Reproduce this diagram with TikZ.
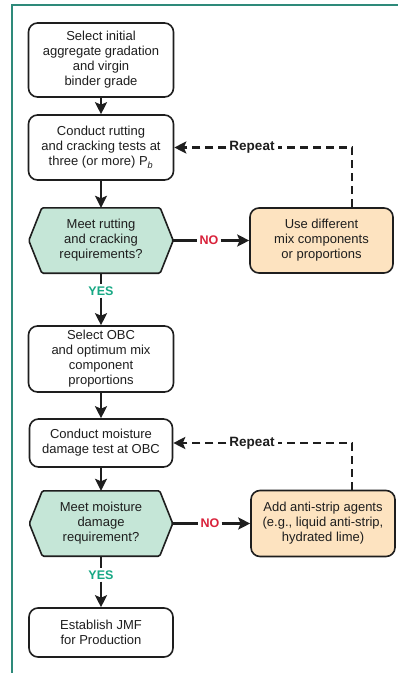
\documentclass[tikz,border=0pt]{standalone}
\usepackage{fontspec}
\setmainfont{Liberation Sans}
\usetikzlibrary{arrows.meta,backgrounds}
\definecolor{frameteal}{HTML}{2E8A7A}
\definecolor{hexfill}{HTML}{C5E6D7}
\definecolor{orfill}{HTML}{FDE3C0}
\definecolor{yescol}{HTML}{17A884}
\definecolor{nocol}{HTML}{D9213A}
\definecolor{ink}{HTML}{1E1E1E}
\begin{document}
\begin{tikzpicture}[x=1pt,y=-1pt,
  box/.style={draw=ink, line width=1.6pt, rounded corners=9pt, align=center,
    font=\fontsize{13}{15}\selectfont, text=ink, inner sep=0pt},
  orbox/.style={box, fill=orfill},
  hexnode/.style={align=center, font=\fontsize{13}{15}\selectfont, text=ink, inner sep=0pt},
  hexdraw/.style={draw=ink, line width=1.6pt, fill=hexfill, rounded corners=1.5pt},
  arr/.style={line width=2.2pt, draw=ink, -{Stealth[length=12pt,width=12pt,inset=2.5pt]}},
  plain/.style={line width=2.2pt, draw=ink},
  dsh/.style={line width=2.8pt, draw=ink, dash pattern=on 8pt off 5pt},
  dsharr/.style={dsh, -{Stealth[length=12pt,width=12pt,inset=2.5pt]}},
  yeslab/.style={font=\bfseries\fontsize{12.5}{14}\selectfont, text=yescol, inner sep=2pt},
  nolab/.style={font=\bfseries\fontsize{12.5}{14}\selectfont, text=nocol, inner sep=2pt},
  replab/.style={font=\bfseries\fontsize{13.5}{15}\selectfont, text=ink, inner sep=3pt}
]
\useasboundingbox (0,0) rectangle (398,673);
\begin{scope}[on background layer]
\fill[white] (0,0) rectangle (398,673);
\end{scope}
\draw[frameteal, line width=2pt] (398,5) -- (12,5) -- (12,673);

\node[box, minimum width=145pt, minimum height=74pt] (b1) at (101,60)
  {Select initial\\aggregate gradation\\and virgin\\binder grade};
\node[box, minimum width=145pt, minimum height=65pt] (b2) at (101,147.5)
  {Conduct rutting\\and cracking tests at\\three (or more) P\textsubscript{\itshape b}};
\node[hexnode, minimum width=144pt, minimum height=65pt] (h1) at (101,240.5)
  {Meet rutting\\and cracking\\requirements?};
\node[orbox, minimum width=143pt, minimum height=65pt] (r1) at (321.5,240.5)
  {Use different\\mix components\\or proportions};
\node[box, minimum width=145pt, minimum height=66pt] (b3) at (101,359)
  {Select OBC\\and optimum mix\\component\\proportions};
\node[box, minimum width=143pt, minimum height=48pt] (b4) at (101,443)
  {Conduct moisture\\damage test at OBC};
\node[hexnode, minimum width=143pt, minimum height=65pt] (h2) at (101,523.5)
  {Meet moisture\\damage\\requirement?};
\node[orbox, minimum width=144pt, minimum height=66pt] (r2) at (323,523.5)
  {Add anti-strip agents\\(e.g., liquid anti-strip,\\hydrated lime)};
\node[box, minimum width=144pt, minimum height=49pt] (b5) at (101,632.5)
  {Establish JMF\\for Production};

\begin{scope}[on background layer]
\draw[hexdraw] ([xshift=13pt]h1.north west) -- ([xshift=-13pt]h1.north east) -- (h1.east)
  -- ([xshift=-13pt]h1.south east) -- ([xshift=13pt]h1.south west) -- (h1.west) -- cycle;
\draw[hexdraw] ([xshift=13pt]h2.north west) -- ([xshift=-13pt]h2.north east) -- (h2.east)
  -- ([xshift=-13pt]h2.south east) -- ([xshift=13pt]h2.south west) -- (h2.west) -- cycle;
\end{scope}

% labels
\node[yeslab] (y1) at (101,291) {YES};
\node[yeslab] (y2) at (101,575) {YES};
\node[nolab] (n1) at (209,240.5) {NO};
\node[nolab] (n2) at (210,523.5) {NO};
\node[replab] (rp1) at (252,147.5) {Repeat};
\node[replab] (rp2) at (252,443) {Repeat};
\coordinate (c1) at (352,147.5);
\coordinate (c2) at (352,443);

% main flow
\draw[arr] (b1) -- (b2);
\draw[arr] (b2.south) -- (h1.north);
\draw[plain] (h1.south) -- (y1.north);
\draw[arr] (y1.south) -- (b3.north);
\draw[arr] (b3) -- (b4);
\draw[arr] (b4.south) -- (h2.north);
\draw[plain] (h2.south) -- (y2.north);
\draw[arr] (y2.south) -- (b5.north);

% NO branches
\draw[plain] (h1.east) -- (n1.west);
\draw[arr] (n1.east) -- (r1.west);
\draw[plain] (h2.east) -- (n2.west);
\draw[arr] (n2.east) -- (r2.west);

% Repeat loops
\draw[dsh] (r1.north -| c1) -- (c1) -- (rp1.east);
\draw[dsharr] (rp1.west) -- (b2.east);
\draw[dsh] (r2.north -| c2) -- (c2) -- (rp2.east);
\draw[dsharr] (rp2.west) -- (b4.east);
\end{tikzpicture}
\end{document}
